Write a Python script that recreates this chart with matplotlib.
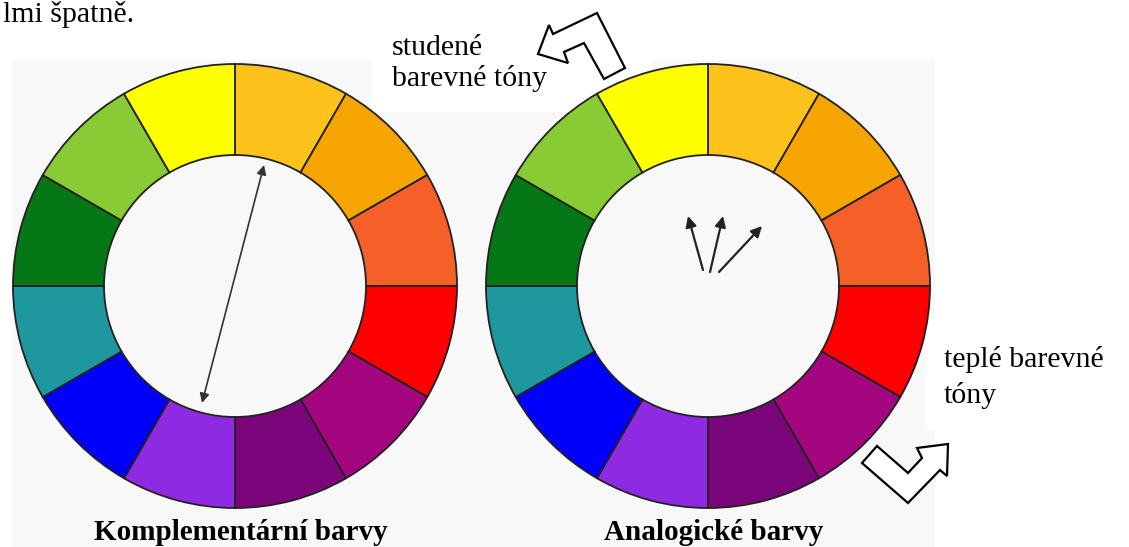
import matplotlib.pyplot as plt
from matplotlib.patches import Wedge, Rectangle, Polygon

# segment colours, clockwise from 12 o'clock
segment_names = ["gold", "orange", "orange-red", "red", "magenta", "dark purple",
                 "violet", "blue", "teal", "green", "light green", "yellow"]
segment_colors = ["#fdc21c", "#f7a502", "#f55f28", "#ff0000", "#a3067f", "#7b067c",
                  "#8e2ae2", "#0000fc", "#1f979e", "#057716", "#88cb34", "#ffff00"]

# wheel geometry in pixels
wheel_centers = [(235, 286), (708, 286)]
outer_r = 222
inner_r = 131

# arrows inside the wheels
compl_arrow = [(202, 403), (264, 165)]
analog_starts = [(703, 270), (710, 272), (719, 272)]
analog_ends = [(688, 216), (723, 216), (762, 226)]

# hollow block arrows
cold_arrow = [(538, 54), (549, 25), (553, 34), (597, 13), (625, 68), (604, 79),
              (584, 43), (564, 52), (568, 63)]
warm_arrow = [(862, 463), (877, 446), (908, 473), (922, 458), (917, 448), (948, 444),
              (947, 476), (940, 470), (908, 503)]

labels = ["Komplementární barvy", "Analogické barvy"]

W, H = 1129, 547
fig = plt.figure(figsize=(W / 100, H / 100), dpi=100)
ax = fig.add_axes([0, 0, 1, 1])
ax.set_xlim(0, W)
ax.set_ylim(H, 0)
ax.axis("off")

# faint textured backdrop of the pasted picture
ax.add_patch(Rectangle((12, 60), 923, 490, facecolor="#f8f8f8", edgecolor="none", zorder=0))
ax.add_patch(Rectangle((372, 0), 280, 112, facecolor="white", edgecolor="none", zorder=1))
ax.add_patch(Rectangle((925, 320), 210, 110, facecolor="white", edgecolor="none", zorder=1))

for cx, cy in wheel_centers:
    for i, col in enumerate(segment_colors):
        w = Wedge((cx, cy), outer_r, -90 + 30 * i, -60 + 30 * i, width=outer_r - inner_r,
                  facecolor=col, edgecolor="#222222", linewidth=1.3, zorder=3)
        ax.add_patch(w)

ax.annotate("", xy=compl_arrow[1], xytext=compl_arrow[0],
            arrowprops=dict(arrowstyle="<|-|>", color="#333333", lw=1.2,
                            mutation_scale=14, shrinkA=0, shrinkB=0), zorder=4)
for s, e in zip(analog_starts, analog_ends):
    ax.annotate("", xy=e, xytext=s,
                arrowprops=dict(arrowstyle="-|>", color="#222222", lw=1.6,
                                mutation_scale=16, shrinkA=0, shrinkB=0), zorder=4)

for pts in (cold_arrow, warm_arrow):
    ax.add_patch(Polygon(pts, closed=True, facecolor="white", edgecolor="black",
                         linewidth=1.6, zorder=5))

serif = "Liberation Serif"
fs = 21.5
ax.text(3, 22, "lmi špatně.", fontsize=fs, family=serif, va="baseline", zorder=6)
ax.text(392, 55, "studené", fontsize=fs, family=serif, va="baseline", zorder=6)
ax.text(392, 86, "barevné tóny", fontsize=fs, family=serif, va="baseline", zorder=6)
ax.text(944, 367, "teplé barevné", fontsize=fs, family=serif, va="baseline", zorder=6)
ax.text(944, 403, "tóny", fontsize=fs, family=serif, va="baseline", zorder=6)

for (cx, cy), lab in zip(wheel_centers, labels):
    ax.text(cx + 6, 540, lab, fontsize=21, family=serif, weight="bold",
            ha="center", va="baseline", zorder=6)

fig.savefig("out.png", dpi=100)
